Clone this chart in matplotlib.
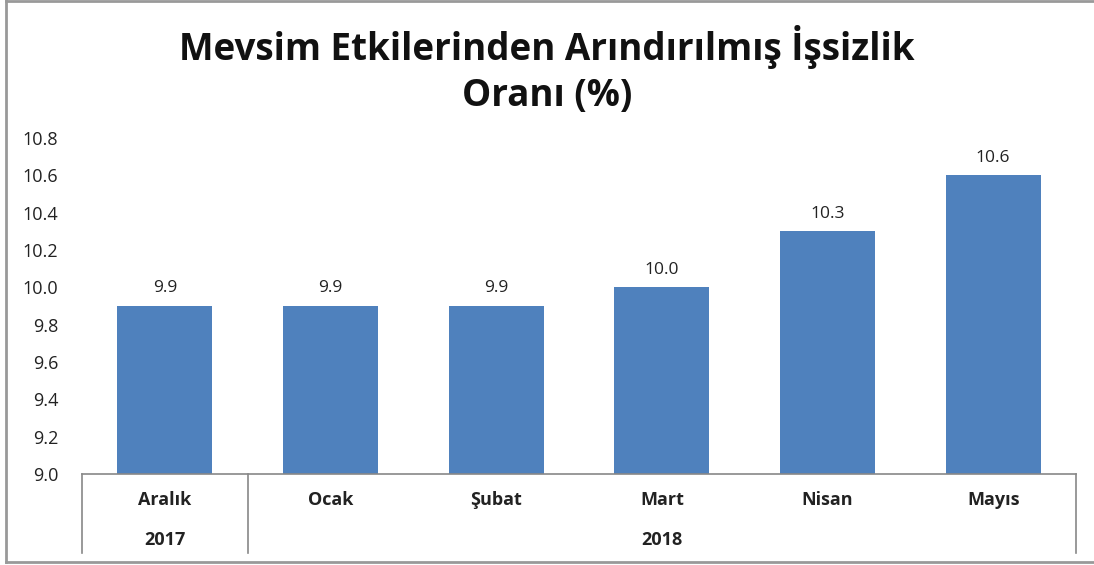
import matplotlib
matplotlib.use('Agg')
import matplotlib.pyplot as plt
from matplotlib.lines import Line2D

# data
months = ['Aralık', 'Ocak', 'Şubat', 'Mart', 'Nisan', 'Mayıs']
years = ['2017', '2018']
year_span = [1, 5]  # number of months under each year
rates = [9.9, 9.9, 9.9, 10.0, 10.3, 10.6]
yticks = [9.0, 9.2, 9.4, 9.6, 9.8, 10.0, 10.2, 10.4, 10.6, 10.8]

plt.rcParams['font.family'] = ['Open Sans', 'DejaVu Sans']

W, H = 1094, 565
fig = plt.figure(figsize=(W / 100, H / 100), dpi=100)
ax = fig.add_axes([82 / W, 1 - 474 / H, (1076 - 82) / W, (474 - 138) / H])

x = list(range(len(months)))
ax.bar(x, rates, width=0.575, color='#4F81BD', zorder=2)
ax.set_xlim(-0.5, len(months) - 0.5)
ax.set_ylim(9.0, 10.8)
ax.set_yticks(yticks)
ax.set_yticklabels(['%.1f' % v for v in yticks], fontsize=13, color='#222222')
ax.tick_params(axis='y', length=0, pad=17)
ax.set_xticks([])
for s in ['top', 'right', 'left']:
    ax.spines[s].set_visible(False)
ax.spines['bottom'].set_color('#888888')
ax.spines['bottom'].set_linewidth(1.2)

# value labels
for xi, v in zip(x, rates):
    ax.annotate('%.1f' % v, (xi, v), xytext=(0, 7), textcoords='offset points',
                ha='center', va='bottom', fontsize=12.5, color='#222222')

# multi-level category axis
tr = ax.get_xaxis_transform()
box_bottom = -(553 - 474) / (474 - 138)
for xi, m in zip(x, months):
    ax.text(xi, -(500 - 474) / (474 - 138), m, transform=tr, ha='center', va='center',
            fontsize=13, fontweight='bold', color='#222222')
start = 0
for yr, n in zip(years, year_span):
    ax.add_line(Line2D([start - 0.5, start - 0.5], [0, box_bottom], transform=tr,
                       color='#888888', lw=1.2, clip_on=False))
    ax.text(start + (n - 1) / 2, -(540 - 474) / (474 - 138), yr, transform=tr,
            ha='center', va='center', fontsize=13, fontweight='bold', color='#222222')
    start += n
ax.add_line(Line2D([start - 0.5, start - 0.5], [0, box_bottom], transform=tr,
                   color='#888888', lw=1.2, clip_on=False))

# title
fig.text(0.5, 1 - 70 / H, 'Mevsim Etkilerinden Arındırılmış İşsizlik\nOranı (%)',
         ha='center', va='center', fontsize=26.5, fontweight='bold', color='#111111',
         linespacing=1.3)

# outer chart border (left, top, bottom)
bc = '#999999'
fig.add_artist(Line2D([6 / W, 6 / W], [1 - 562 / H, 1], transform=fig.transFigure, color=bc, lw=2))
fig.add_artist(Line2D([6 / W, 1], [1 - 1 / H, 1 - 1 / H], transform=fig.transFigure, color=bc, lw=2))
fig.add_artist(Line2D([6 / W, 1], [1 - 562 / H, 1 - 562 / H], transform=fig.transFigure, color=bc, lw=2))

fig.savefig('out.png', dpi=100)
